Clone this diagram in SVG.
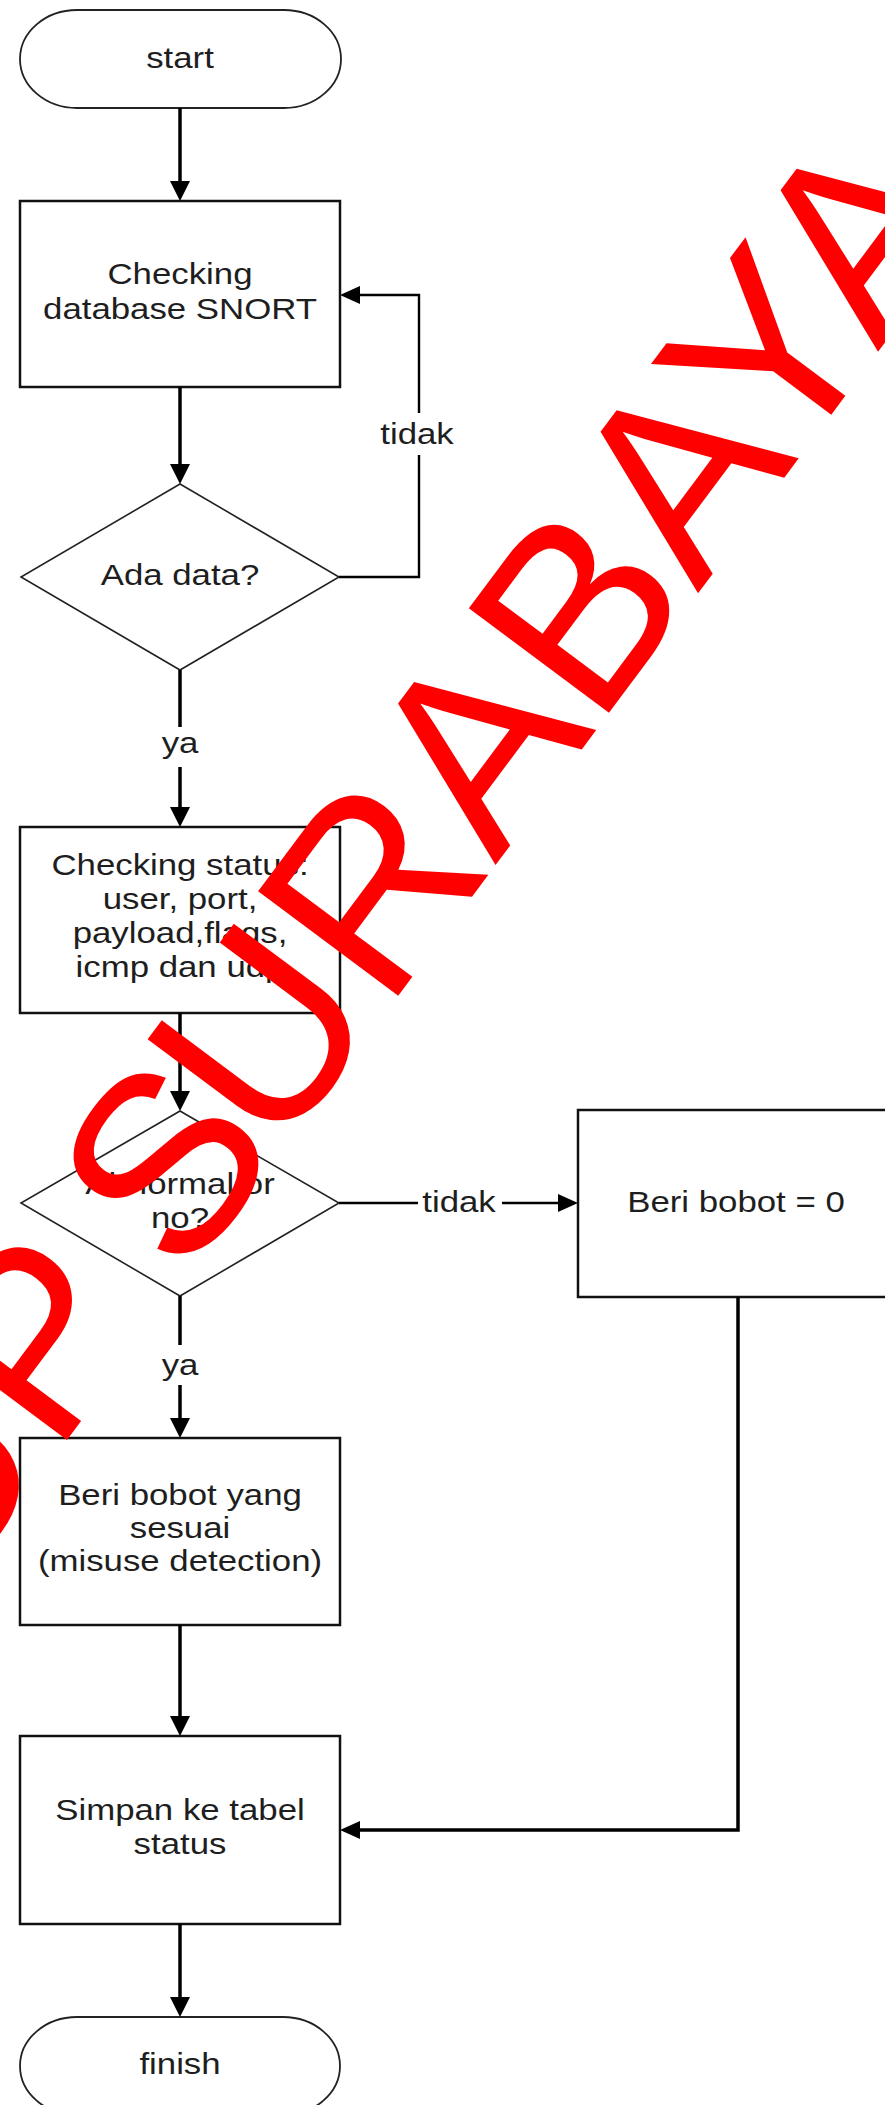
<svg xmlns="http://www.w3.org/2000/svg" width="885" height="2105" viewBox="0 0 885 2105">
<defs>
<style>
.t{font-family:"Liberation Sans",Arial,sans-serif;font-size:29px;fill:#1e1e1e;text-anchor:middle}
.box{fill:#fff;stroke:#111;stroke-width:2.5}
.dia{fill:#fff;stroke:#222;stroke-width:1.6}
.term{fill:#fff;stroke:#222;stroke-width:1.8}
.c{fill:none;stroke:#000;stroke-width:3.5}
.c2{fill:none;stroke:#000;stroke-width:2.4}
.wm{font-family:"Liberation Sans",Arial,sans-serif;font-size:254px;fill:#ff0000}
</style>
<marker id="ah" markerUnits="userSpaceOnUse" markerWidth="20" markerHeight="20" refX="10" refY="10" orient="auto" viewBox="0 0 20 20"><path d="M0,0 L20,10 L0,20 z" fill="#000"/></marker>
<marker id="ah2" markerUnits="userSpaceOnUse" markerWidth="20" markerHeight="18" refX="10" refY="9" orient="auto" viewBox="0 0 20 18"><path d="M0,0 L20,9 L0,18 z" fill="#000"/></marker>
</defs>
<rect x="0" y="0" width="885" height="2105" fill="#fff"/>

<g id="start">
<rect class="term" x="20" y="10" width="321" height="98" rx="57" ry="49"/>
<text class="t" transform="translate(180,68) scale(1.2,1)">start</text>
</g>

<g id="check-db">
<rect class="box" x="20" y="201" width="320" height="186"/>
<text class="t" transform="translate(180,284) scale(1.2,1)">Checking</text>
<text class="t" transform="translate(180,319) scale(1.2,1)">database SNORT</text>
</g>

<g id="ada-data">
<polygon class="dia" points="180,484 339,577 180,670 21,577"/>
<text class="t" transform="translate(180,585) scale(1.2,1)">Ada data?</text>
</g>

<g id="check-status">
<rect class="box" x="20" y="827" width="320" height="186"/>
<text class="t" transform="translate(180,875) scale(1.2,1)">Checking status:</text>
<text class="t" transform="translate(180,909) scale(1.2,1)">user, port,</text>
<text class="t" transform="translate(180,943) scale(1.2,1)">payload,flags,</text>
<text class="t" transform="translate(180,977) scale(1.2,1)">icmp dan udp</text>
</g>

<g id="abnormal">
<polygon class="dia" points="180,1111 339,1203 180,1296 21,1203"/>
<text class="t" transform="translate(180,1194) scale(1.2,1)">Abnormal or</text>
<text class="t" transform="translate(180,1228) scale(1.2,1)">no?</text>
</g>

<g id="bobot-0">
<rect class="box" x="578" y="1110" width="330" height="187"/>
<text class="t" transform="translate(736,1212) scale(1.2,1)">Beri bobot = 0</text>
</g>

<g id="bobot-sesuai">
<rect class="box" x="20" y="1438" width="320" height="187"/>
<text class="t" transform="translate(180,1505) scale(1.2,1)">Beri bobot yang</text>
<text class="t" transform="translate(180,1538) scale(1.2,1)">sesuai</text>
<text class="t" transform="translate(180,1571) scale(1.2,1)">(misuse detection)</text>
</g>

<g id="simpan">
<rect class="box" x="20" y="1736" width="320" height="188"/>
<text class="t" transform="translate(180,1820) scale(1.2,1)">Simpan ke tabel</text>
<text class="t" transform="translate(180,1854) scale(1.2,1)">status</text>
</g>

<g id="finish">
<rect class="term" x="20" y="2017" width="320" height="98" rx="57" ry="49"/>
<text class="t" transform="translate(180,2074) scale(1.2,1)">finish</text>
</g>

<g id="connectors">
<path class="c" d="M180,108 V191" marker-end="url(#ah)"/>
<path class="c" d="M180,387 V474" marker-end="url(#ah)"/>
<path class="c2" d="M339,577 H419 V455 M419,413 V295 H350" marker-end="url(#ah2)"/>
<text class="t" transform="translate(417,444) scale(1.2,1)">tidak</text>
<path class="c" d="M180,670 V727 M180,767 V817" marker-end="url(#ah)"/>
<text class="t" transform="translate(180,753) scale(1.2,1)">ya</text>
<path class="c" d="M180,1013 V1101" marker-end="url(#ah)"/>
<path class="c2" d="M339,1203 H418 M502,1203 H568" marker-end="url(#ah2)"/>
<text class="t" transform="translate(459,1212) scale(1.2,1)">tidak</text>
<path class="c" d="M180,1296 V1345 M180,1385 V1428" marker-end="url(#ah)"/>
<text class="t" transform="translate(180,1375) scale(1.2,1)">ya</text>
<path class="c" d="M180,1625 V1726" marker-end="url(#ah)"/>
<path class="c" d="M738,1297 V1830 H350" marker-end="url(#ah2)"/>
<path class="c" d="M180,1924 V2007" marker-end="url(#ah)"/>
</g>

<g id="watermark">
<text class="wm" transform="translate(184,1283) rotate(-53.3)" y="0"><tspan x="-400">UP</tspan><tspan x="0">S</tspan><tspan x="154">URABAYA</tspan></text>
</g>
</svg>
